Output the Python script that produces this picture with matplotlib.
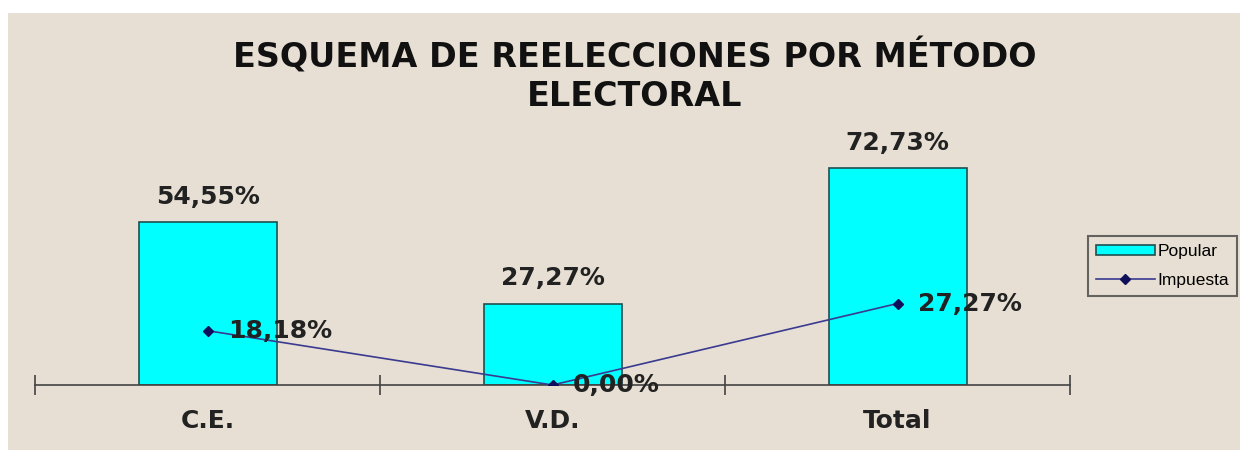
import matplotlib.pyplot as plt
from matplotlib.patches import Rectangle

categories = ["C.E.", "V.D.", "Total"]
popular = [54.55, 27.27, 72.73]
impuesta = [18.18, 0.0, 27.27]
popular_labels = ["54,55%", "27,27%", "72,73%"]
impuesta_labels = ["18,18%", "0,00%", "27,27%"]

plt.rcParams['font.family'] = ['DejaVu Sans']

fig = plt.figure(figsize=(12.5, 4.57), dpi=100)
fig.patch.set_facecolor("white")
W, H = 1250, 457
fig.patches.append(Rectangle((8 / W, 7 / H), 1232 / W, 437 / H, transform=fig.transFigure,
                             facecolor="#e7dfd3", edgecolor="none", zorder=-5))

ax = fig.add_axes([35 / W, 72 / H, 1035 / W, 245 / H])
ax.set_facecolor("none")
x = list(range(len(categories)))
bars = ax.bar(x, popular, width=0.4, color="#00ffff", edgecolor="#1f4f4f", linewidth=1.2, zorder=2)
line, = ax.plot(x, impuesta, color="#3a3a90", linewidth=1.2, marker="D", markersize=5,
                markerfacecolor="#10105a", markeredgecolor="#10105a", zorder=3)

for xi, v, lab in zip(x, popular, popular_labels):
    ax.text(xi, v + 8.4, lab, ha="center", va="center", fontsize=18, fontweight="bold", color="#222222")
for xi, v, lab in zip(x, impuesta, impuesta_labels):
    ax.text(xi + 0.06, v, lab, ha="left", va="center", fontsize=18, fontweight="bold", color="#222222")

ax.set_xlim(-0.5, 2.5)
ax.set_ylim(0, 82)
for s in ["top", "right", "left"]:
    ax.spines[s].set_visible(False)
ax.spines["bottom"].set_color("#444444")
ax.spines["bottom"].set_linewidth(1.2)
ax.set_yticks([])
ax.set_xticks([-0.5, 0.5, 1.5, 2.5])
ax.set_xticklabels([])
ax.tick_params(axis="x", direction="inout", length=14, width=1.2, color="#444444")
for xi, c in zip(x, categories):
    ax.text(xi, -12, c, ha="center", va="center", fontsize=18, fontweight="bold",
            color="#222222", clip_on=False)

fig.text(635 / W, 1 - 57 / H, "ESQUEMA DE REELECCIONES POR MÉTODO", ha="center", va="center",
         fontsize=24, fontweight="bold", color="#111111")
fig.text(635 / W, 1 - 97 / H, "ELECTORAL", ha="center", va="center",
         fontsize=24, fontweight="bold", color="#111111")

leg = fig.legend([bars, line], ["Popular", "Impuesta"], loc="upper left",
                 bbox_to_anchor=(1088 / W, 1 - 236 / H),
                 prop={"family": "Liberation Sans", "size": 12.5},
                 frameon=True, fancybox=False, handlelength=3.4, handleheight=0.5,
                 borderpad=0.45, labelspacing=0.8, handletextpad=0.15, borderaxespad=0)
leg.get_frame().set_edgecolor("#444444")
leg.get_frame().set_facecolor("none")
leg.get_frame().set_linewidth(1.5)

fig.savefig("out.png", dpi=100, facecolor=fig.get_facecolor())
